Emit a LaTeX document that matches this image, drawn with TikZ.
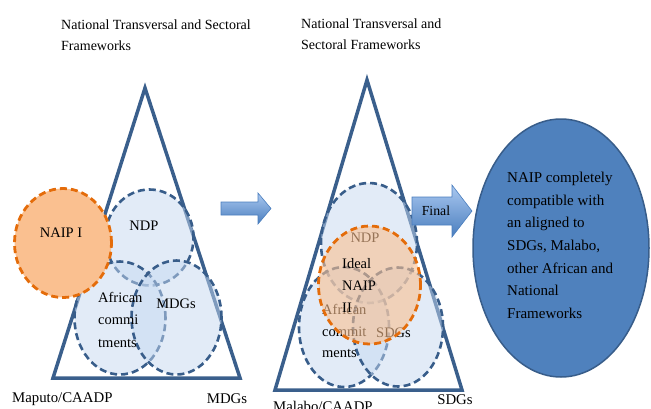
\documentclass[tikz,border=0pt]{standalone}
\usepackage{fontspec}
\setmainfont{Liberation Serif}
\usetikzlibrary{shapes.geometric}
\definecolor{triblue}{RGB}{58,95,140}
\definecolor{dashblue}{RGB}{56,93,138}
\definecolor{circfill}{RGB}{197,216,240}
\definecolor{orgdraw}{RGB}{228,108,10}
\definecolor{orgfill}{RGB}{250,192,144}
\definecolor{bigfill}{RGB}{79,129,189}
\definecolor{bigdraw}{RGB}{56,93,138}
\definecolor{arrtop}{RGB}{170,200,240}
\definecolor{arrbot}{RGB}{74,126,190}
\begin{document}
\begin{tikzpicture}[x=1pt,y=-1pt,
  tri/.style={draw=triblue,line width=3.5pt,line join=miter},
  bluec/.style={ellipse,draw=dashblue,line width=2.6pt,dash pattern=on 7pt off 4pt,
    fill=circfill,fill opacity=0.5,draw opacity=1,inner sep=0pt},
  orgc/.style={ellipse,draw=orgdraw,line width=2.8pt,dash pattern=on 7pt off 4pt,
    fill=orgfill,inner sep=0pt},
  lbl/.style={inner sep=0pt,font=\fontsize{14.5}{22.7}\selectfont},
  mlbl/.style={lbl,align=left,anchor=north west},
  blockarrow/.style={draw=arrbot,line width=0.6pt,top color=arrtop,bottom color=arrbot,line join=miter}]
\clip (0,0) rectangle (651,408);

% ---------- left triangle ----------
\draw[tri] (145,88) -- (240,378) -- (53,378) -- cycle;
\node[bluec,minimum width=88,minimum height=96] (ndpL) at (149.5,237.5) {};
\node[bluec,minimum width=91,minimum height=113] (afrL) at (120,318) {};
\node[bluec,minimum width=90,minimum height=114] (mdgL) at (176.5,317.5) {};
\node[lbl,anchor=base] (ndpLt) at (144,230) {NDP};
\node[mlbl] (afrLt) at (98,291.8) {African\\commi\\tments};
\node[lbl,anchor=base] (mdgLt) at (176,308) {MDGs};
\node[orgc,minimum width=97,minimum height=109] (naip1) at (63,243) {};
\node[lbl,anchor=base] (naip1t) at (61,237) {NAIP I};

\node[mlbl,font=\fontsize{14}{21.5}\selectfont] (topL) at (61,19.4) {National Transversal and Sectoral\\Frameworks};
\node[lbl,anchor=base west,font=\fontsize{14.8}{18}\selectfont] (maputo) at (12,402) {Maputo/CAADP};
\node[lbl,anchor=base,font=\fontsize{14.8}{18}\selectfont] (mdgB) at (227,403) {MDGs};

% ---------- middle arrow ----------
\shadedraw[blockarrow] (221,202) -- (258,202) -- (258,193) -- (271,208.5) -- (258,224) -- (258,215) -- (221,215) -- cycle;

% ---------- right triangle ----------
\draw[tri] (367,80) -- (462,390) -- (275,390) -- cycle;
\node[bluec,minimum width=96,minimum height=120] (ndpR) at (369,243) {};
\node[bluec,minimum width=90,minimum height=120] (afrR) at (344,327) {};
\node[bluec,minimum width=90,minimum height=119] (sdgR) at (398,327) {};
\node[lbl,anchor=base] (ndpRt) at (365,242) {NDP};
\node[mlbl,font=\fontsize{14.5}{21.5}\selectfont] (afrRt) at (322,304.1) {African\\commit\\ments};
\node[lbl,anchor=base west] (sdgRt) at (376,337) {SDGs};
\node[orgc,fill opacity=0.6,draw opacity=1,minimum width=102,minimum height=118] (naip2) at (369.5,285) {};
\node[mlbl,font=\fontsize{14.5}{22}\selectfont] (naip2t) at (342,258.1) {Ideal\\NAIP\\II};

\node[mlbl,font=\fontsize{14}{21.5}\selectfont] (topR) at (301,18.4) {National Transversal and\\Sectoral Frameworks};
\node[lbl,anchor=base west,font=\fontsize{14.8}{18}\selectfont] (malabo) at (273,411) {Malabo/CAADP};
\node[lbl,anchor=base,font=\fontsize{14.8}{18}\selectfont] (sdgB) at (455,404) {SDGs};

% ---------- final arrow ----------
\shadedraw[blockarrow] (412,197) -- (452,197) -- (452,185) -- (472,211) -- (452,237) -- (452,225) -- (412,225) -- cycle;
\node[lbl,font=\fontsize{13.8}{16}\selectfont] (finalt) at (436,211) {Final};

% ---------- goal ellipse ----------
\node[ellipse,fill=bigfill,draw=bigdraw,line width=1.5pt,minimum width=176,minimum height=258,inner sep=0pt] (goal) at (561,248) {};
\node[mlbl,font=\fontsize{15}{22.7}\selectfont] (goalt) at (507,171.8) {NAIP completely\\compatible with\\an aligned to\\SDGs, Malabo,\\other African and\\National\\Frameworks};
\end{tikzpicture}
\end{document}
